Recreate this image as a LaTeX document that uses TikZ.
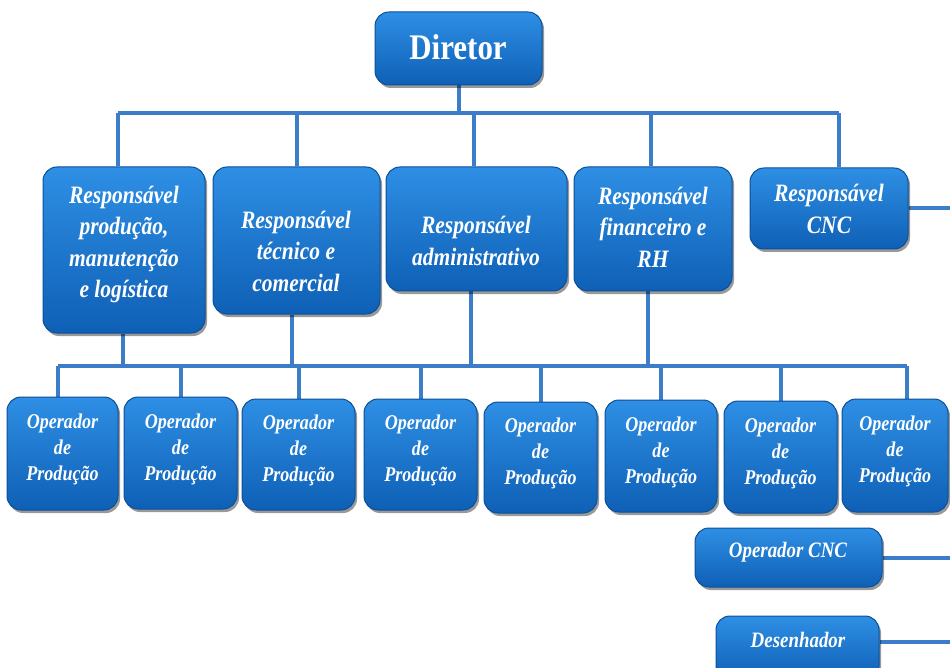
\documentclass[tikz,border=0pt]{standalone}
\usepackage{fontspec}
\setmainfont[FakeStretch=0.86]{Liberation Serif}
\usetikzlibrary{shadows,calc}
\pgfdeclarelayer{background}
\pgfsetlayers{background,main}

\definecolor{boxtop}{HTML}{2E8FE4}
\definecolor{boxmid}{HTML}{1A76D0}
\definecolor{boxbot}{HTML}{0E60B6}
\definecolor{boxedge}{HTML}{0B4F98}
\definecolor{wire}{HTML}{3C7DC9}

\tikzset{
  box/.style={rectangle, rounded corners=14pt, draw=boxedge, line width=1pt,
    top color=boxtop, middle color=boxmid, bottom color=boxbot,
    drop shadow={shadow xshift=2pt, shadow yshift=-3pt, opacity=0.4, fill=black},
    inner sep=0pt},
  lbl/.style={text=white, align=center, font=\fontsize{25}{31.5}\selectfont\bfseries\itshape},
  oplbl/.style={text=white, align=center, font=\fontsize{21}{26}\selectfont\bfseries\itshape},
  wdlbl/.style={text=white, align=center, font=\fontsize{22}{26}\selectfont\bfseries\itshape},
  toplbl/.style={text=white, align=center, font=\fontsize{36}{40}\selectfont\bfseries},
  wire/.style={draw=wire, line width=4pt},
}

\begin{document}
\begin{tikzpicture}[x=1pt,y=-1pt]
\useasboundingbox (0,0) rectangle (950,668);
\clip (0,0) rectangle (950,668);

% ---- boxes ----
\node[box, minimum width=167pt, minimum height=73pt] (dir) at (458.5,48.5) {};

\node[box, minimum width=162pt, minimum height=166pt] (b1) at (124,250) {};
\node[box, minimum width=167pt, minimum height=147pt] (b2) at (296.5,240.5) {};
\node[box, minimum width=181pt, minimum height=124pt] (b3) at (476.5,229) {};
\node[box, minimum width=158pt, minimum height=124pt] (b4) at (653,229) {};
\node[box, minimum width=158pt, minimum height=81pt] (b5) at (829,208.5) {};

\node[box, minimum width=111pt, minimum height=113pt] (op1) at (62.5,453.5) {};
\node[box, minimum width=113pt, minimum height=112pt] (op2) at (180.5,453) {};
\node[box, minimum width=113pt, minimum height=111pt] (op3) at (298.5,454.5) {};
\node[box, minimum width=113pt, minimum height=111pt] (op4) at (420.5,454.5) {};
\node[box, minimum width=113pt, minimum height=111pt] (op5) at (540.5,457.5) {};
\node[box, minimum width=112pt, minimum height=112pt] (op6) at (661,456) {};
\node[box, minimum width=113pt, minimum height=112pt] (op7) at (780.5,457) {};
\node[box, minimum width=106pt, minimum height=113pt] (op8) at (895,455.5) {};

\node[box, minimum width=187pt, minimum height=59pt] (cnc) at (788.5,557.5) {};
\node[box, minimum width=163pt, minimum height=64pt] (des) at (797.5,648) {};

% ---- labels ----
\node[toplbl] (tdir) at (458,47) {Diretor};
\node[lbl] (t1) at (124,244.5) {Responsável\\produção,\\manutenção\\e logística};
\node[lbl] (t2) at (296,251) {Responsável\\técnico e\\comercial};
\node[lbl] (t3) at (476,241) {Responsável\\administrativo};
\node[lbl] (t4) at (653,227) {Responsável\\financeiro e\\RH};
\node[lbl] (t5) at (829,209) {Responsável\\CNC};
\foreach \n in {1,...,8}
  \node[oplbl] (top\n) at ($(op\n.center)+(0,-4)$) {Operador\\de\\Produção};
\node[wdlbl] (tcnc) at (788,552) {Operador CNC};
\node[wdlbl] (tdes) at (798,640) {Desenhador};

% ---- connectors ----
\coordinate (busAl) at (118,113);
\coordinate (busAr) at (839,113);
\coordinate (busBl) at (58,366);
\coordinate (busBr) at (907,366);
\coordinate (rim) at (950,0);

\begin{pgfonlayer}{background}
  \draw[wire] (dir.south) -- (dir.south |- busAl);
  \draw[wire] (busAl) -- (busAr);
  \draw[wire] (busAl) -- (busAl |- b1.north);
  \draw[wire] (b2.north |- busAl) -- (b2.north);
  \draw[wire] ($(b3.north |- busAl)+(-3,0)$) -- ($(b3.north)+(-3,0)$);
  \draw[wire] ($(b4.north |- busAl)+(-2,0)$) -- ($(b4.north)+(-2,0)$);
  \draw[wire] (busAr) -- (busAr |- b5.north);
  \draw[wire] (b5.east) -- (b5.east -| rim);

  \draw[wire] ($(b1.south)+(-1,0)$) -- ($(b1.south |- busBl)+(-1,0)$);
  \draw[wire] ($(b2.south)+(-5,0)$) -- ($(b2.south |- busBl)+(-5,0)$);
  \draw[wire] ($(b3.south)+(-6,0)$) -- ($(b3.south |- busBl)+(-6,0)$);
  \draw[wire] ($(b4.south)+(-5,0)$) -- ($(b4.south |- busBl)+(-5,0)$);
  \draw[wire] (busBl) -- (busBr);
  \draw[wire] (busBl) -- (busBl |- op1.north);
  \foreach \n in {2,...,7}
    \draw[wire] (op\n.north |- busBl) -- (op\n.north);
  \draw[wire] (busBr) -- (busBr |- op8.north);

  \draw[wire] (cnc.east) -- (cnc.east -| rim);
  \draw[wire] ($(des.east)+(0,-6)$) -- ($(des.east -| rim)+(0,-6)$);
\end{pgfonlayer}
\end{tikzpicture}
\end{document}
